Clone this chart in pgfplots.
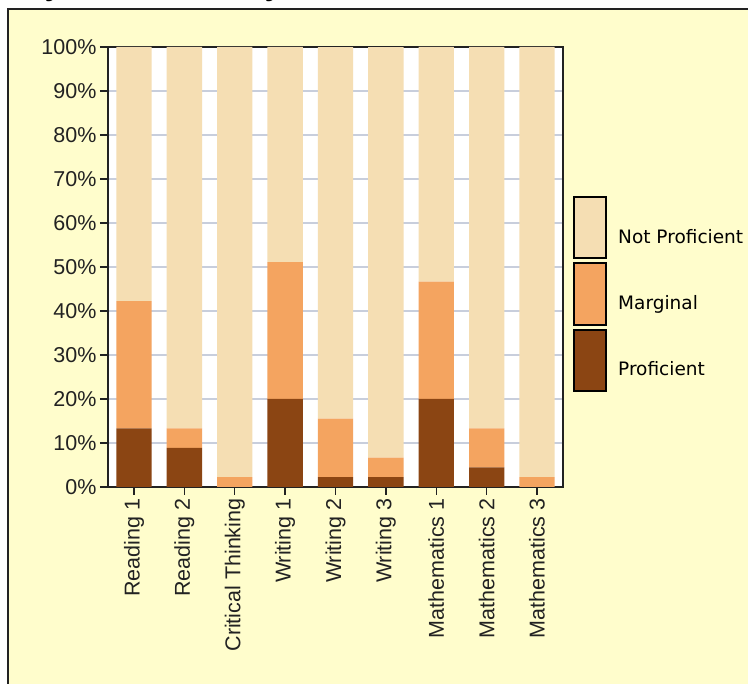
\documentclass[border=0pt]{standalone}
\usepackage{pgfplots}
\pgfplotsset{compat=1.18}
\usepackage{fontspec}
\setmainfont{Liberation Sans}
\newfontfamily\legfont{DejaVu Sans}
\definecolor{bgyellow}{HTML}{FFFDCC}
\definecolor{prof}{HTML}{8B4513}
\definecolor{marg}{HTML}{F4A460}
\definecolor{notp}{HTML}{F5DEB3}
\definecolor{gridc}{HTML}{C8CEDC}
\definecolor{framec}{HTML}{222222}
\begin{document}
\begin{tikzpicture}[x=1pt,y=1pt]
\useasboundingbox (0,0) rectangle (748,684);
\clip (0,0) rectangle (748,684);
\fill[white] (0,0) rectangle (748,684);
\fill[bgyellow] (8,0) rectangle (748,675);
\node[anchor=base, inner sep=0pt, font=\fontsize{30}{30}\selectfont\bfseries\itshape] at (56,688) {y};
\node[anchor=base, inner sep=0pt, font=\fontsize{30}{30}\selectfont\bfseries\itshape] at (276,688) {y};
\draw[framec, line width=2.5pt] (8,-5) -- (8,675) -- (760,675);
\begin{axis}[
  at={(108pt,197pt)}, anchor=south west, scale only axis,
  width=455pt, height=440pt,
  ybar stacked, bar width=0.7,
  xmin=-0.516, xmax=8.516, ymin=0, ymax=100,
  xtick={0,...,8},
  xticklabels={Reading 1, Reading 2, Critical Thinking, Writing 1, Writing 2, Writing 3, Mathematics 1, Mathematics 2, Mathematics 3},
  ytick={0,10,...,100},
  yticklabels={0\%,10\%,20\%,30\%,40\%,50\%,60\%,70\%,80\%,90\%,100\%},
  xticklabel style={rotate=90, anchor=east, font=\fontsize{21.5}{24}\selectfont, text=framec},
  yticklabel style={font=\fontsize{21.5}{24}\selectfont, text=framec},
  tick align=outside, major tick length=8pt,
  xtick pos=bottom, ytick pos=left,
  tick style={framec, line width=1.5pt},
  axis line style={framec, line width=2pt},
  ymajorgrids, grid style={gridc, line width=1.2pt},
  axis background/.style={fill=white},
]
\addplot[fill=prof, draw=none] coordinates {(0,13.33) (1,8.89) (2,0) (3,20) (4,2.22) (5,2.22) (6,20) (7,4.44) (8,0)};
\addplot[fill=marg, draw=none] coordinates {(0,28.89) (1,4.44) (2,2.22) (3,31.11) (4,13.33) (5,4.44) (6,26.67) (7,8.89) (8,2.22)};
\addplot[fill=notp, draw=none] coordinates {(0,57.78) (1,86.67) (2,97.78) (3,48.89) (4,84.44) (5,93.33) (6,53.33) (7,86.67) (8,97.78)};
\end{axis}
\draw[black, line width=1.5pt, fill=notp] (574,426) rectangle (606,487);
\draw[black, line width=1.5pt, fill=marg] (574,359) rectangle (606,421);
\draw[black, line width=1.5pt, fill=prof] (574,293) rectangle (606,354);
\node[anchor=west, inner sep=0pt, font=\legfont\fontsize{18.5}{20}\selectfont] at (618,447) {Not Proficient};
\node[anchor=west, inner sep=0pt, font=\legfont\fontsize{18.5}{20}\selectfont] at (618,380) {Marginal};
\node[anchor=west, inner sep=0pt, font=\legfont\fontsize{18.5}{20}\selectfont] at (618,315) {Proficient};
\end{tikzpicture}
\end{document}
